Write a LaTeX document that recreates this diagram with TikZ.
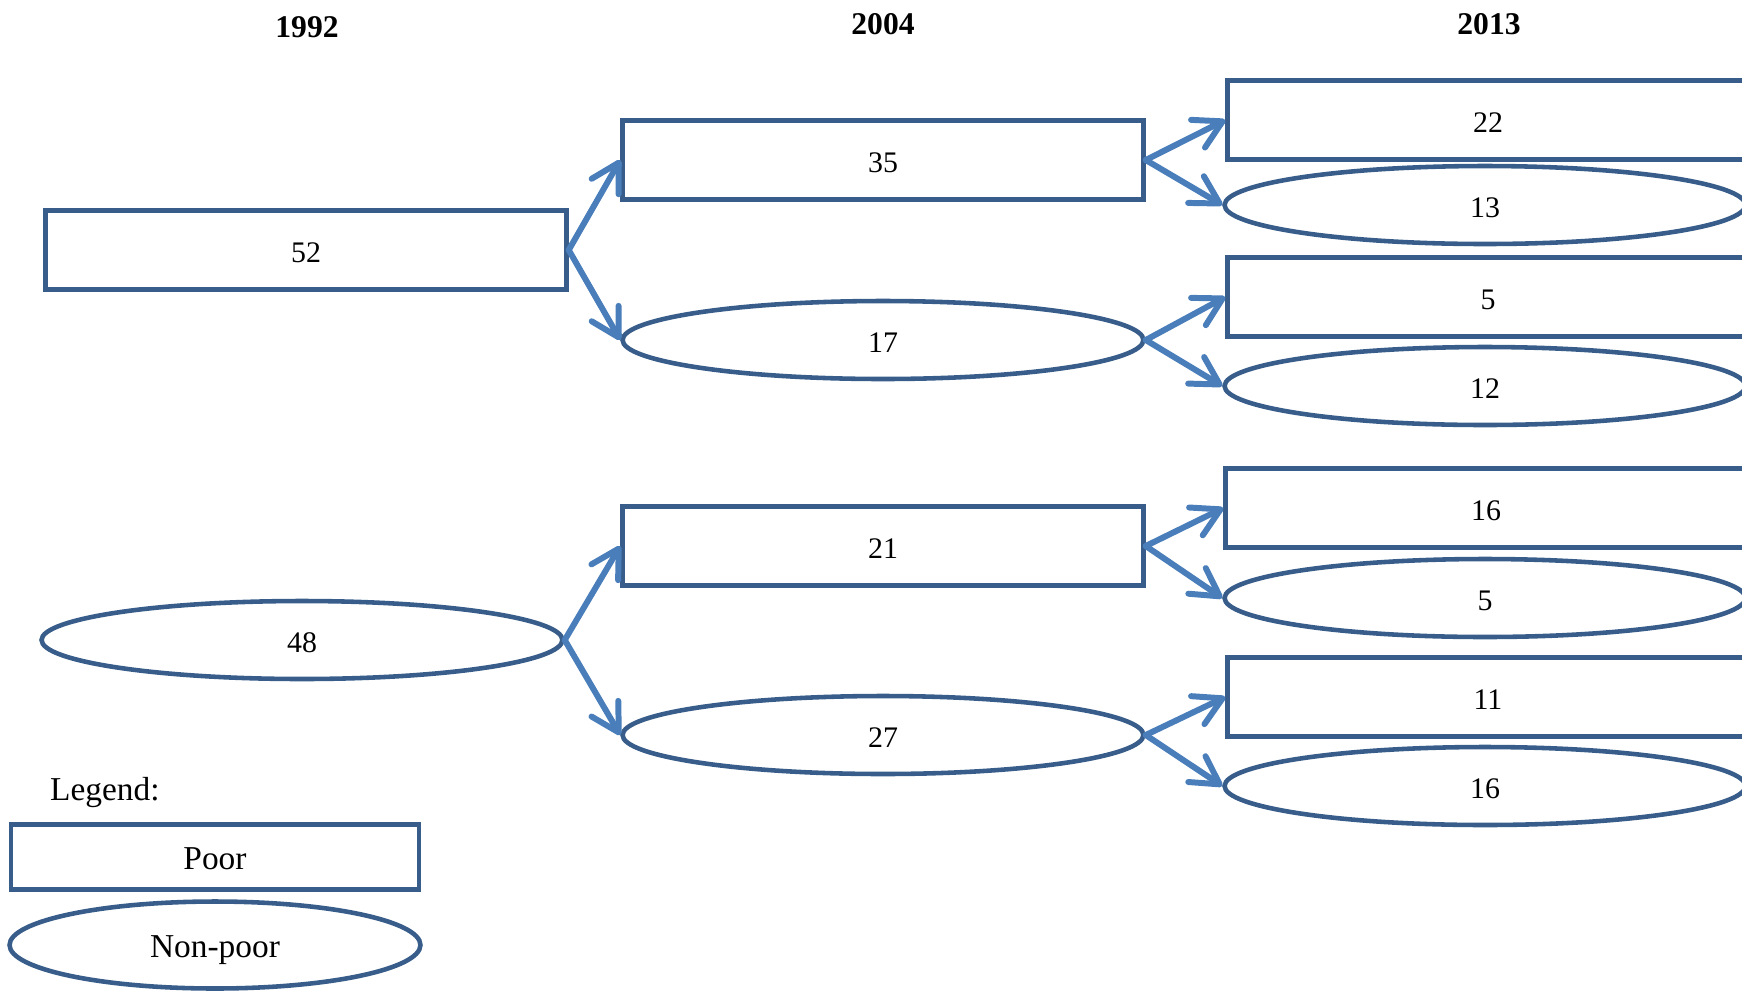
\documentclass[tikz,border=0pt]{standalone}
\usepackage{fontspec}
\setmainfont{Liberation Serif}
\usetikzlibrary{arrows.meta,shapes.geometric}
\definecolor{boxblue}{HTML}{385D8A}
\definecolor{arrowblue}{HTML}{4A7EBB}

\begin{document}
\begin{tikzpicture}[x=0.02cm,y=-0.02cm,
  poor/.style={draw=boxblue,line width=2.6pt,rectangle,minimum width=10.42cm,
    minimum height=1.58cm,inner sep=0pt,text height=14pt,text depth=0pt,
    font=\fontsize{17}{20}\selectfont},
  nonpoor/.style={poor,ellipse,minimum height=1.56cm},
  flow/.style={draw=arrowblue,line width=3.4pt,line cap=round,
    -{Straight Barb[length=0.55cm,width=0.62cm,round]}},
  year/.style={font=\fontsize{18}{22}\selectfont\bfseries,anchor=base},
  legendtext/.style={font=\fontsize{19}{23}\selectfont}]
  \useasboundingbox (0,0) rectangle (1742,992);

  \node[year] (y1992) at (307,37) {1992};
  \node[year] (y2004) at (883,34) {2004};
  \node[year] (y2013) at (1489,34) {2013};

  \node[poor] (p) at (306,250) {52};
  \node[nonpoor] (n) at (302,640) {48};

  \node[poor] (pp) at (883,160) {35};
  \node[nonpoor] (pn) at (883,340) {17};
  \node[poor] (np) at (883,546) {21};
  \node[nonpoor] (nn) at (883,735) {27};

  \node[poor] (ppp) at (1488,120) {22};
  \node[nonpoor] (ppn) at (1485,205) {13};
  \node[poor] (pnp) at (1488,297) {5};
  \node[nonpoor] (pnn) at (1485,386) {12};
  \node[poor] (npp) at (1486,508) {16};
  \node[nonpoor] (npn) at (1485,598) {5};
  \node[poor] (nnp) at (1488,697) {11};
  \node[nonpoor] (nnn) at (1485,786) {16};

  \draw[flow] (p.east) -- (pp.west);
  \draw[flow] (p.east) -- (pn.west);
  \draw[flow] (n.east) -- (np.west);
  \draw[flow] (n.east) -- (nn.west);
  \draw[flow] (pp.east) -- (ppp.west);
  \draw[flow] (pp.east) -- (ppn.west);
  \draw[flow] (pn.east) -- (pnp.west);
  \draw[flow] (pn.east) -- (pnn.west);
  \draw[flow] (np.east) -- (npp.west);
  \draw[flow] (np.east) -- (npn.west);
  \draw[flow] (nn.east) -- (nnp.west);
  \draw[flow] (nn.east) -- (nnn.west);

  \node[legendtext,anchor=base west] (legend) at (44,800) {Legend:};
  \node[poor,legendtext,minimum width=8.16cm,minimum height=1.3cm] (keypoor) at (215,857) {Poor};
  \node[nonpoor,legendtext,minimum width=8.22cm,minimum height=1.74cm] (keynonpoor) at (215,945) {Non-poor};
\end{tikzpicture}
\end{document}
